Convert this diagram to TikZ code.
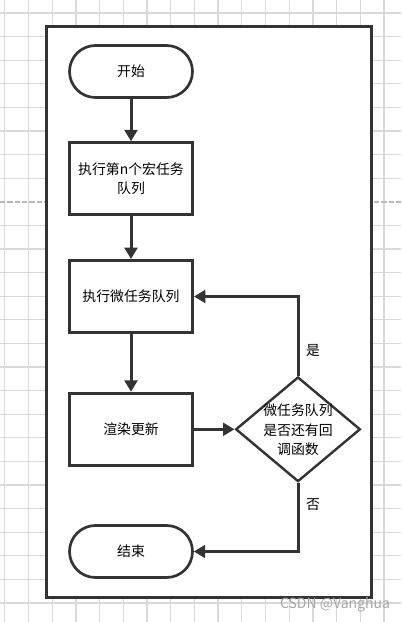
\documentclass[tikz,border=0pt]{standalone}
\usepackage{fontspec}
\setmainfont{Noto Sans CJK SC}
\usetikzlibrary{shapes.geometric,arrows.meta}
\definecolor{traco}{HTML}{333333}
\definecolor{grade}{HTML}{D9D9D9}

\begin{document}
\begin{tikzpicture}[x=0.75pt,y=-0.75pt,
		font=\fontsize{10.4pt}{14.8pt}\selectfont,
		inicio/.style={draw=traco,line width=2pt,rounded corners=19.5pt,minimum width=92.25pt,minimum height=39pt,inner sep=0pt},
		caixa/.style={draw=traco,line width=2.25pt,minimum width=92.25pt,minimum height=54pt,inner sep=0pt,align=center},
		decisao/.style={diamond,draw=traco,line width=1.8pt,minimum width=93.5pt,minimum height=78.5pt,inner sep=0pt},
		seta/.style={draw=traco,line width=2.25pt,-{Triangle[length=8.5pt,width=9.5pt]}}]
		\useasboundingbox (0,0) rectangle (401,622);
		
		% Grade de fundo
		\begin{scope}
			\clip (0,0) rectangle (401,622);
			\foreach \i in {0,...,16}
				\draw[grade,line width=1pt] ({4.8+23.7*\i},0) -- ({4.8+23.7*\i},622);
			\foreach \j in {0,...,7,9,10,...,25}
				\draw[grade,line width=1pt] (0,{13+23.6*\j}) -- (401,{13+23.6*\j});
			\draw[gray!55,line width=0.9pt,dash pattern=on 4pt off 1.5pt] (0,202) -- (401,202);
		\end{scope}
		
		% Moldura
		\draw[traco,line width=2.25pt,fill=white] (46,26) rectangle (371,597.5);
		
		% Blocos
		\node[inicio] (inicio) at (131,71.5) {开始};
		\node[caixa] (macro) at (131,178.8) {执行第n个宏任务\\队列};
		\node[caixa] (micro) at (131,296.5) {执行微任务队列};
		\node[caixa] (render) at (131,429.3) {渲染更新};
		\node[decisao] (teste) at (298,429.3) {};
		\node[align=center] (testetxt) at (298,430) {微任务队列\\是否还有回\\调函数};
		\node[inicio] (fim) at (131,551.5) {结束};
		
		% Setas
		\draw[seta] (inicio) -- (macro);
		\draw[seta] (macro) -- (micro);
		\draw[seta] (micro) -- (render);
		\draw[seta] (render) -- (teste);
		\draw[seta] (teste.north) |- (micro.east);
		\draw[seta] (teste.south) |- (fim.east);
		
		% Rótulos
		\node (sim) at (313,351) {是};
		\node (nao) at (313,505) {否};
		\node[text=gray!70,font=\fontsize{10.5pt}{12pt}\selectfont] (marca) at (335,605) {CSDN @Vanghua};
		
	\end{tikzpicture}
\end{document}
